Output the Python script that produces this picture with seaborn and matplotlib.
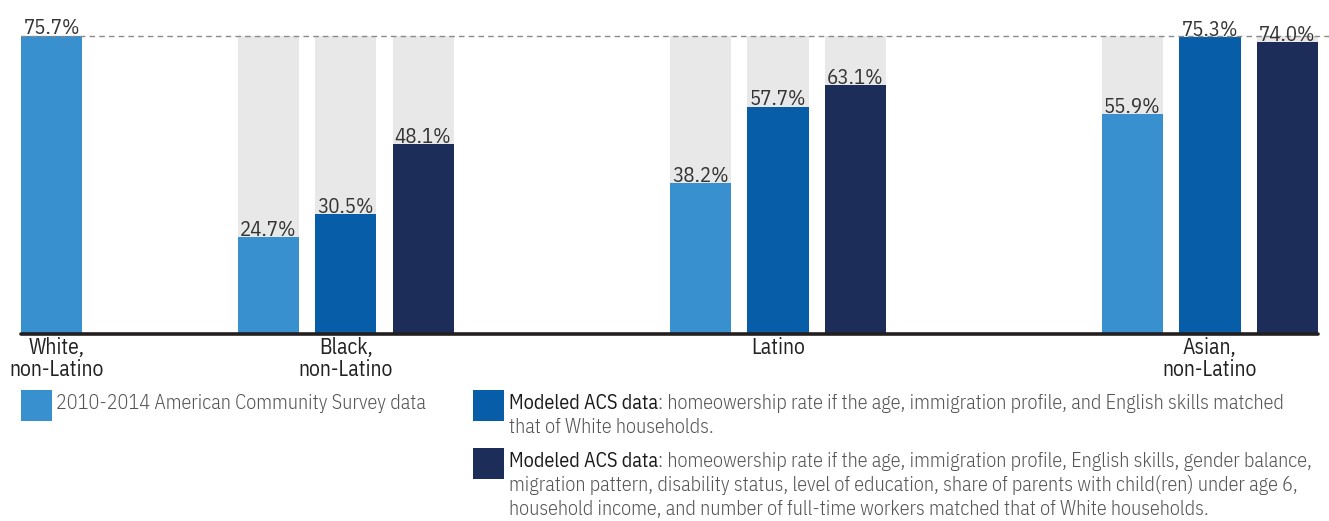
import matplotlib
matplotlib.use("Agg")
import matplotlib.pyplot as plt
import matplotlib.patches as mpatches
import matplotlib.transforms as mtransforms
import seaborn as sns
import pandas as pd

# ---------------- data ----------------
groups = ["White,\nnon-Latino", "Black,\nnon-Latino", "Latino", "Asian,\nnon-Latino"]
series = ["ACS 2010-2014", "Modeled (basic)", "Modeled (full)"]
acs_2010_2014 = [75.7, 24.7, 38.2, 55.9]
modeled_basic = [None, 30.5, 57.7, 75.3]
modeled_full = [None, 48.1, 63.1, 74.0]
white_rate = 75.7

legend_first = "2010-2014 American Community Survey data"
legend_em = "Modeled ACS data"
legend_second = [": homeowership rate if the age, immigration profile, and English skills matched",
                 "that of White households."]
legend_third = [": homeowership rate if the age, immigration profile, English skills, gender balance,",
                "migration pattern, disability status, level of education, share of parents with child(ren) under age 6,",
                "household income, and number of full-time workers matched that of White households."]

# ---------------- style / layout ----------------
colors = {"ACS 2010-2014": "#3990CF", "Modeled (basic)": "#085DA9", "Modeled (full)": "#1C2D5A"}
gray = "#E8E8E8"
group_start = [0.0, 2.795, 8.375, 13.95]
label_shift = [0.07, 1.0, 1.0, 1.0]
bar_w = 0.79

sns.set_theme(style="white")
FONT = ["IBM Plex Sans Condensed", "DejaVu Sans"]
plt.rcParams["font.family"] = FONT

W, H = 1329, 521
fig = plt.figure(figsize=(W / 100, H / 100), dpi=100)

def fx(px):
    return px / W

def fy(py):
    return 1 - py / H

ax = fig.add_axes([fx(21), fy(334), fx(1318) - fx(21), fy(35.6) - fy(334)])

rows, bg_rows = [], []
all_vals = [acs_2010_2014, modeled_basic, modeled_full]
for gi, g in enumerate(groups):
    for si, s in enumerate(series):
        v = all_vals[si][gi]
        if v is None:
            continue
        pos = group_start[gi] + si
        rows.append({"pos": pos, "value": v, "series": s})
        if gi > 0:
            bg_rows.append({"pos": pos, "value": white_rate})
df = pd.DataFrame(rows)
bg = pd.DataFrame(bg_rows)

sns.barplot(data=bg, x="pos", y="value", native_scale=True, width=bar_w,
            color=gray, saturation=1, errorbar=None, linewidth=0, ax=ax, zorder=1)
sns.barplot(data=df, x="pos", y="value", hue="series", palette=colors, native_scale=True,
            dodge=False, width=bar_w, saturation=1, errorbar=None, linewidth=0,
            legend=False, ax=ax, zorder=2)

ax.set_xlim(-bar_w / 2, group_start[-1] + 2 + bar_w / 2)
ax.set_ylim(0, white_rate)
for sp in ax.spines.values():
    sp.set_visible(False)
ax.set_yticks([])
ax.set_xlabel("")
ax.set_ylabel("")
ax.grid(False)

# value labels
for _, r in df.iterrows():
    ax.annotate(f"{r['value']:.1f}%", (r["pos"], r["value"]), xytext=(0, 0.8),
                textcoords="offset points", ha="center", va="baseline",
                fontsize=15, color="#333333", zorder=5)

# reference dashed line
trans = mtransforms.blended_transform_factory(ax.transAxes, ax.transData)
ax.plot([0, 1.01], [white_rate, white_rate], transform=trans, ls=(0, (4, 3)),
        lw=1, color="#8a8a8a", clip_on=False, zorder=3)

# baseline
ax.axhline(0, color="#231F20", lw=2.6, zorder=4, clip_on=False)

# category labels
ax.set_xticks([group_start[i] + label_shift[i] for i in range(len(groups))])
ax.set_xticklabels(groups, fontsize=15.5, color="#222222", linespacing=1.0)
ax.tick_params(axis="x", length=0, pad=2.5)

# ---------------- legend ----------------
def square(x, y, c):
    fig.patches.append(mpatches.Rectangle((fx(x), fy(y + 31)), fx(31), 31 / H,
                                          transform=fig.transFigure, color=c, lw=0))

LFS = 14.5
LC = "#555555"
square(21, 390, colors["ACS 2010-2014"])
fig.text(fx(56), fy(409), legend_first, fontsize=LFS, color=LC, va="baseline", weight=300)

fig.canvas.draw()
renderer = fig.canvas.get_renderer()

def mixed(x, y0, lines, dy=24):
    t = fig.text(fx(x), fy(y0), legend_em, fontsize=LFS, color="#1a1a1a", va="baseline", weight=400)
    bb = t.get_window_extent(renderer=renderer)
    fig.text(bb.x1 / W, fy(y0), lines[0], fontsize=LFS, color=LC, va="baseline", weight=300)
    for i, ln in enumerate(lines[1:], start=1):
        fig.text(fx(x), fy(y0 + i * dy), ln, fontsize=LFS, color=LC, va="baseline", weight=300)

square(473, 390, colors["Modeled (basic)"])
mixed(509, 409, legend_second)
square(473, 448, colors["Modeled (full)"])
mixed(509, 467, legend_third)

fig.savefig("out.png", dpi=100)
